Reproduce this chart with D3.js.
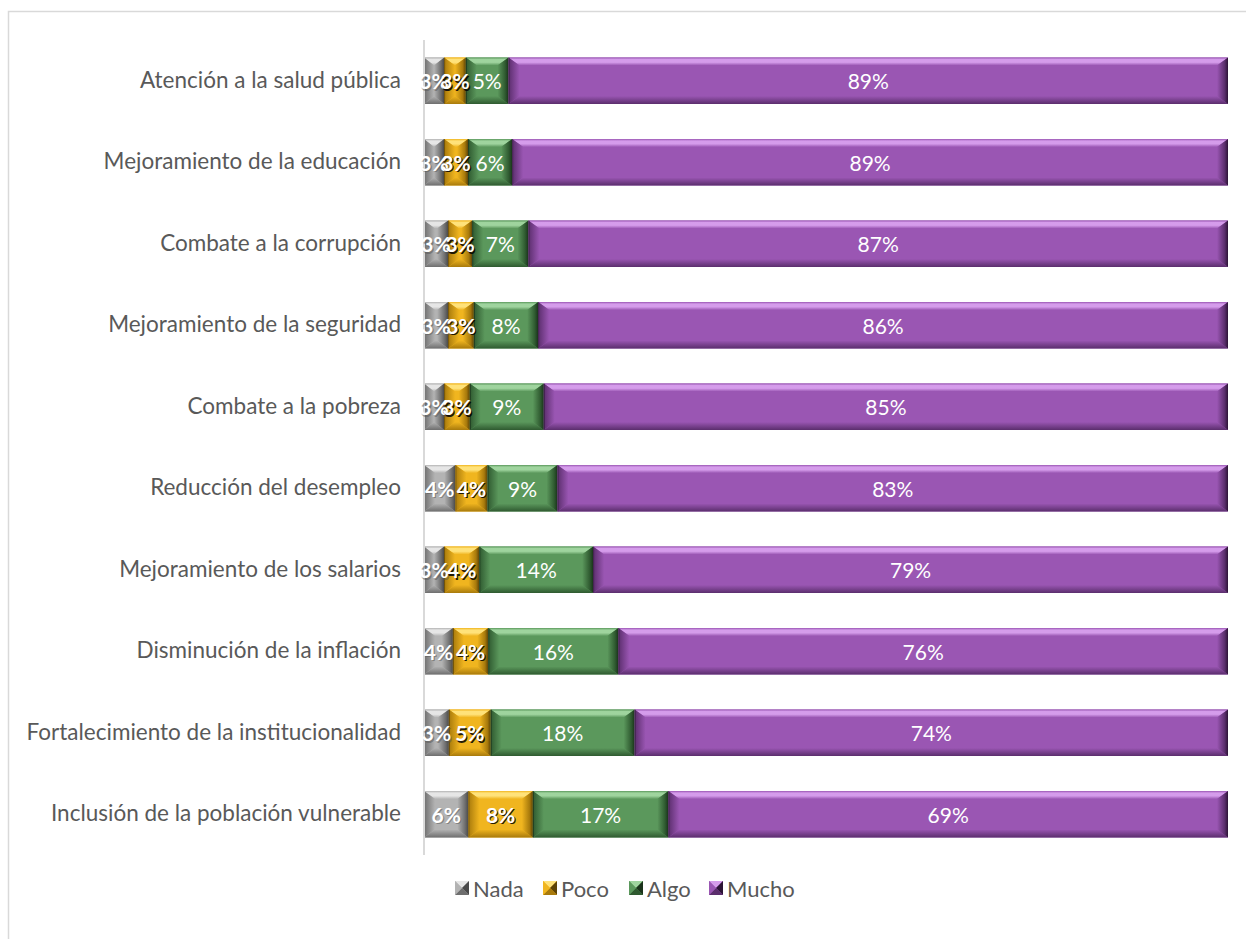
<!DOCTYPE html>
<html><head><meta charset="utf-8">
<script src="https://cdn.jsdelivr.net/npm/d3@7"></script>
<style>html,body{margin:0;padding:0;background:#fff;}svg{display:block;}</style>
</head><body>
<svg id="chart" width="1246" height="939"></svg>
<script>
const categories = [
  "Atención a la salud pública",
  "Mejoramiento de la educación",
  "Combate a la corrupción",
  "Mejoramiento de la seguridad",
  "Combate a la pobreza",
  "Reducción del desempleo",
  "Mejoramiento de los salarios",
  "Disminución de la inflación",
  "Fortalecimiento de la institucionalidad",
  "Inclusión de la población vulnerable"
];
const seriesNames = ["Nada", "Poco", "Algo", "Mucho"];
const nada  = [2.5, 2.5, 3.0, 3.0, 2.5, 3.9, 2.5, 3.6, 3.1, 5.5];
const poco  = [2.7, 3.0, 3.0, 3.2, 3.2, 4.0, 4.4, 4.4, 5.2, 8.0];
const algo  = [5.3, 5.5, 7.0, 8.0, 9.2, 8.7, 14.2, 16.2, 17.9, 16.8];
const mucho = [89.4, 89.3, 87.1, 85.8, 85.1, 83.4, 79.2, 75.9, 73.8, 69.4];
const labelNada  = ["3%","3%","3%","3%","3%","4%","3%","4%","3%","6%"];
const labelPoco  = ["3%","3%","3%","3%","3%","4%","4%","4%","5%","8%"];
const labelAlgo  = ["5%","6%","7%","8%","9%","9%","14%","16%","18%","17%"];
const labelMucho = ["89%","89%","87%","86%","85%","83%","79%","76%","74%","69%"];

const colors = {
  Nada:  {face:"#b3b3b3", light:"#e6e6e6", dark:"#6e6e6e", xdark:"#4a4a4a"},
  Poco:  {face:"#f0b51f", light:"#ffe27a", dark:"#a87a0c", xdark:"#5e4305"},
  Algo:  {face:"#5b985c", light:"#9fd49e", dark:"#2f5a30", xdark:"#1a331b"},
  Mucho: {face:"#9a56b3", light:"#d59ceb", dark:"#5b2e6d", xdark:"#2c1436"}
};

const rows = categories.map((c,i)=>({cat:c, Nada:nada[i], Poco:poco[i], Algo:algo[i], Mucho:mucho[i],
  labels:{Nada:labelNada[i], Poco:labelPoco[i], Algo:labelAlgo[i], Mucho:labelMucho[i]}}));

const svg = d3.select("#chart");
const FONT = "Lato, 'Open Sans', sans-serif";

// chart border
svg.append("rect").attr("x",8.5).attr("y",11.5).attr("width",1300).attr("height",1000)
  .attr("fill","none").attr("stroke","#d9d9d9").attr("stroke-width",1.5);

const x = d3.scaleLinear().domain([0,1]).range([424,1228]);
const y = d3.scaleBand().domain(categories).range([40,855]).paddingInner(0.43).paddingOuter(0.215);

const stack = d3.stack().keys(seriesNames).offset(d3.stackOffsetExpand);
const stacked = stack(rows);

const defs = svg.append("defs");
function grad(id, x1,y1,x2,y2, stops){
  const g = defs.append("linearGradient").attr("id",id).attr("x1",x1).attr("y1",y1).attr("x2",x2).attr("y2",y2);
  stops.forEach(s=>g.append("stop").attr("offset",s[0]).attr("stop-color",s[1]));
}
seriesNames.forEach(k=>{
  const c = colors[k];
  grad("top-"+k,0,0,0,1,[[0,c.face],[0.25,c.light],[0.6,c.light],[1,c.face]]);
  grad("bot-"+k,0,0,0,1,[[0,c.face],[1,c.dark]]);
  grad("right-"+k,0,0,1,0,[[0,c.face],[0.7,c.dark],[1,c.xdark]]);
  grad("left-"+k,0,0,1,0,[[0,c.dark],[1,c.face]]);
});

const bars = svg.append("g");
stacked.forEach(layer=>{
  const k = layer.key;
  layer.forEach((d,i)=>{
    const x0 = x(d[0]), x1 = x(d[1]);
    const y0 = y(rows[i].cat), h = y.bandwidth(), y1 = y0 + h;
    const w = x1 - x0;
    const bx = Math.min(11, w/2), by = 8;
    const g = bars.append("g");
    const ix0 = x0+bx, ix1 = x1-bx, iy0 = y0+by, iy1 = y1-by;
    g.append("rect").attr("x",x0).attr("y",y0).attr("width",w).attr("height",h).attr("fill",colors[k].face);
    const poly = (pts, fill)=>g.append("polygon").attr("points",pts.map(p=>p.join(",")).join(" ")).attr("fill",fill);
    poly([[x0,y0],[x1,y0],[ix1,iy0],[ix0,iy0]], `url(#top-${k})`);
    poly([[x0,y1],[x1,y1],[ix1,iy1],[ix0,iy1]], `url(#bot-${k})`);
    poly([[x0,y0],[ix0,iy0],[ix0,iy1],[x0,y1]], `url(#left-${k})`);
    poly([[x1,y0],[ix1,iy0],[ix1,iy1],[x1,y1]], `url(#right-${k})`);
    g.append("line").attr("x1",x0+0.5).attr("x2",x0+0.5).attr("y1",y0).attr("y2",y1)
      .attr("stroke","#000").attr("stroke-opacity",0.35).attr("stroke-width",1);
  });
});

// axis line
svg.append("line").attr("x1",424).attr("x2",424).attr("y1",40).attr("y2",855)
  .attr("stroke","#d9d9d9").attr("stroke-width",2);

// category labels
const yAxis = d3.axisLeft(y).tickSize(0).tickPadding(23);
const ya = svg.append("g").attr("transform","translate(424,0)").call(yAxis);
ya.select(".domain").remove();
ya.selectAll("text").attr("font-family",FONT).attr("font-size",22.5).attr("fill","#595959");

// data labels
const lbl = svg.append("g");
stacked.forEach(layer=>{
  const k = layer.key;
  layer.forEach((d,i)=>{
    const cx = (x(d[0])+x(d[1]))/2, cy = y(rows[i].cat)+y.bandwidth()/2;
    const bold = (k==="Nada"||k==="Poco");
    const t = rows[i].labels[k];
    if (bold) {
      lbl.append("text").attr("x",cx+1.2).attr("y",cy+1.5).attr("text-anchor","middle").attr("dominant-baseline","central")
        .attr("font-family",FONT).attr("font-size",21).attr("font-weight","bold")
        .attr("fill", k==="Poco" ? "#000" : "#555").attr("fill-opacity",k==="Poco"?0.85:0.5).text(t);
    }
    lbl.append("text").attr("x",cx).attr("y",cy).attr("text-anchor","middle").attr("dominant-baseline","central")
      .attr("font-family",FONT).attr("font-size",21).attr("font-weight",bold?"bold":"normal")
      .attr("fill","#fff").text(t);
  });
});

// legend
const legendX = [455, 543, 629, 709];
const leg = svg.append("g");
seriesNames.forEach((k,i)=>{
  const lx = legendX[i], ly = 881, s = 14, c = colors[k];
  const g = leg.append("g");
  g.append("rect").attr("x",lx).attr("y",ly).attr("width",s).attr("height",s).attr("fill",c.face);
  const poly = (pts, fill)=>g.append("polygon").attr("points",pts.map(p=>p.join(",")).join(" ")).attr("fill",fill);
  const m = s/2;
  poly([[lx,ly],[lx+s,ly],[lx+m,ly+m]], c.light);
  poly([[lx+s,ly],[lx+s,ly+s],[lx+m,ly+m]], c.xdark);
  poly([[lx,ly+s],[lx+s,ly+s],[lx+m,ly+m]], c.dark);
  poly([[lx,ly],[lx,ly+s],[lx+m,ly+m]], c.face);
  leg.append("text").attr("x",lx+18).attr("y",ly+s/2).attr("dominant-baseline","central")
    .attr("font-family",FONT).attr("font-size",22).attr("fill","#595959").text(k);
});
</script>
</body></html>
